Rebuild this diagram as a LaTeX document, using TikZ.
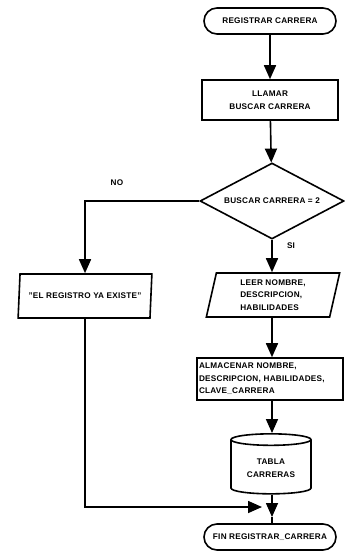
\documentclass[tikz,border=0pt]{standalone}
\usepackage{fontspec}
\setmainfont{Liberation Sans}[LetterSpace=3]
\usetikzlibrary{shapes.geometric,shapes.misc,arrows.meta}
\begin{document}
\begin{tikzpicture}[x=1pt,y=-1pt,
  every node/.style={font=\fontsize{8.2}{12.5}\selectfont\bfseries, line width=1.6pt, inner sep=2pt},
  term/.style={draw, rounded rectangle, minimum width=136pt, minimum height=26pt},
  proc/.style={draw, rectangle, minimum width=136pt, minimum height=40pt, align=center},
  io/.style={draw, trapezium, trapezium left angle=80, trapezium right angle=100, trapezium stretches=true, minimum width=134pt, minimum height=44pt, align=left},
  dec/.style={draw, diamond, aspect=1.9, minimum width=144pt, minimum height=76pt, inner sep=0pt},
  db/.style={draw, cylinder, shape border rotate=90, aspect=0.22, minimum width=80pt, minimum height=60pt, align=center},
  arr/.style={line width=1.6pt, -{Triangle[length=14pt,width=12pt]}},
  ln/.style={line width=1.6pt}
]
\useasboundingbox (0,0) rectangle (345,558);
\node[term] (start) at (270,21) {REGISTRAR CARRERA};
\node[proc] (call) at (270,100) {LLAMAR\\BUSCAR CARRERA};
\node[dec] (dec) at (272,201) {BUSCAR CARRERA = 2};
\node[io] (msg) at (85,296) {"EL REGISTRO YA EXISTE"};
\node[io] (read) at (273,295) {LEER NOMBRE,\\DESCRIPCION,\\HABILIDADES};
\node[draw, rectangle, minimum height=42pt, text width=142pt, inner xsep=2pt, align=left] (store) at (270,379) {ALMACENAR NOMBRE,\\DESCRIPCION, HABILIDADES,\\CLAVE\_CARRERA};
\node[db] (tab) at (271,468) {TABLA\\CARRERAS};
\node[term] (end) at (270,537) {FIN REGISTRAR\_CARRERA};
\coordinate (merge) at (272,517);
\coordinate (join) at (262,507);
\node (no) at (117,183) {NO};
\node (si) at (291,246) {SI};
\draw[arr] (start) -- (call);
\draw[arr] (call) -- (dec);
\draw[arr] (dec.west) -| (msg.north);
\draw[arr] (dec.south) -- (read.north -| dec.south);
\draw[arr] (read.south -| dec.south) -- (store.north -| dec.south);
\draw[arr] (store.south -| dec.south) -- (tab.north -| dec.south);
\draw[arr] (tab.south -| dec.south) -- (merge);
\draw[ln] (merge) -- (end.north -| merge);
\draw[arr] (msg.south) |- (join);
\end{tikzpicture}
\end{document}
